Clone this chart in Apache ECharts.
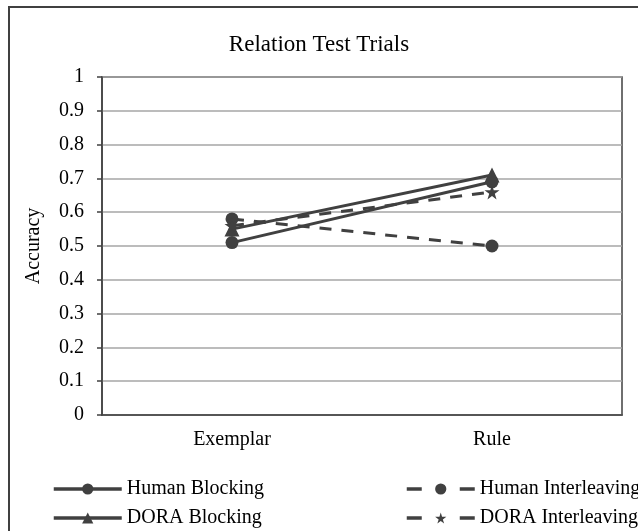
<!DOCTYPE html>
<html><head><meta charset="utf-8">
<script src="https://cdn.jsdelivr.net/npm/echarts@6/dist/echarts.min.js"></script>
<style>html,body{margin:0;padding:0;background:#fff}#c{width:638px;height:531px}</style>
</head><body><div id="c"></div>
<script>
const categories = ['Exemplar', 'Rule'];
const humanBlocking = [0.51, 0.69];
const humanInterleaving = [0.58, 0.50];
const doraBlocking = [0.55, 0.71];
const doraInterleaving = [0.56, 0.66];
const yTicks = [0, 0.1, 0.2, 0.3, 0.4, 0.5, 0.6, 0.7, 0.8, 0.9, 1];

const FONT = '"Liberation Serif", "Times New Roman", serif';
const INK = '#404040';
const STAR = 'path://M50,0 L61,35 L98,35 L68,57 L79,91 L50,70 L21,91 L32,57 L2,35 L39,35 Z';

function mkSeries(name, data, symbol, size, dashed) {
  return {
    name, type: 'line', data, symbol, symbolSize: size,
    lineStyle: { color: INK, width: 3, type: dashed ? [12, 10] : 'solid' },
    itemStyle: { color: INK, borderWidth: 0 },
    emphasis: { disabled: true },
    animation: false, z: 3
  };
}
const solidLeg = { color: INK, width: 3.5, type: 'solid' };
const dashLeg = { color: INK, width: 3.5, type: [15, 38] };
const legText = { fontFamily: FONT, fontSize: 20, color: '#000' };

const chart = echarts.init(document.getElementById('c'));
chart.setOption({
  backgroundColor: '#fff',
  animation: false,
  textStyle: { fontFamily: FONT },
  title: {
    text: 'Relation Test Trials', left: 'center', top: 28,
    textStyle: { fontFamily: FONT, fontSize: 23, fontWeight: 'normal', color: '#000' }
  },
  graphic: [{
    type: 'rect', shape: { x: 9, y: 7, width: 640, height: 540 },
    style: { fill: 'none', stroke: INK, lineWidth: 2 }, silent: true, z: 0
  }],
  grid: { left: 102, right: 16, top: 77, bottom: 116, show: true, borderColor: INK, borderWidth: 1.5 },
  xAxis: {
    type: 'category', data: categories, boundaryGap: true,
    axisLine: { lineStyle: { color: INK, width: 1.5 } },
    axisTick: { show: false },
    axisLabel: { fontFamily: FONT, fontSize: 20, color: '#000', margin: 15 }
  },
  yAxis: {
    type: 'value', min: 0, max: 1, interval: 0.1,
    name: 'Accuracy', nameLocation: 'middle', nameGap: 58, nameRotate: 90,
    nameTextStyle: { fontFamily: FONT, fontSize: 20, color: '#000' },
    axisLine: { show: true, lineStyle: { color: INK, width: 1.5 } },
    axisTick: { show: true, length: 5, lineStyle: { color: INK, width: 1.5 } },
    axisLabel: { fontFamily: FONT, fontSize: 20, color: '#000', margin: 18,
      formatter: v => { const t = yTicks.find(x => Math.abs(x - v) < 1e-6); return String(t !== undefined ? t : v); } },
    splitLine: { lineStyle: { color: '#a6a6a6', width: 1.5 } }
  },
  legend: [
    { orient: 'vertical', left: 52, top: 479, width: 300, height: 90, padding: 0, itemWidth: 68, itemHeight: 14, itemGap: 9,
      data: [{ name: 'Human Blocking', lineStyle: solidLeg }, { name: 'DORA Blocking', lineStyle: solidLeg }],
      textStyle: legText, selectedMode: false },
    { orient: 'vertical', left: 405, top: 479, width: 300, height: 90, padding: 0, itemWidth: 68, itemHeight: 14, itemGap: 9,
      data: [{ name: 'Human Interleaving', lineStyle: dashLeg }, { name: 'DORA Interleaving', lineStyle: dashLeg }],
      textStyle: legText, selectedMode: false }
  ],
  series: [
    mkSeries('Human Blocking', humanBlocking, 'circle', 13, false),
    mkSeries('Human Interleaving', humanInterleaving, 'circle', 13, true),
    mkSeries('DORA Blocking', doraBlocking, 'triangle', 15, false),
    mkSeries('DORA Interleaving', doraInterleaving, STAR, 15, true)
  ]
});
</script></body></html>
